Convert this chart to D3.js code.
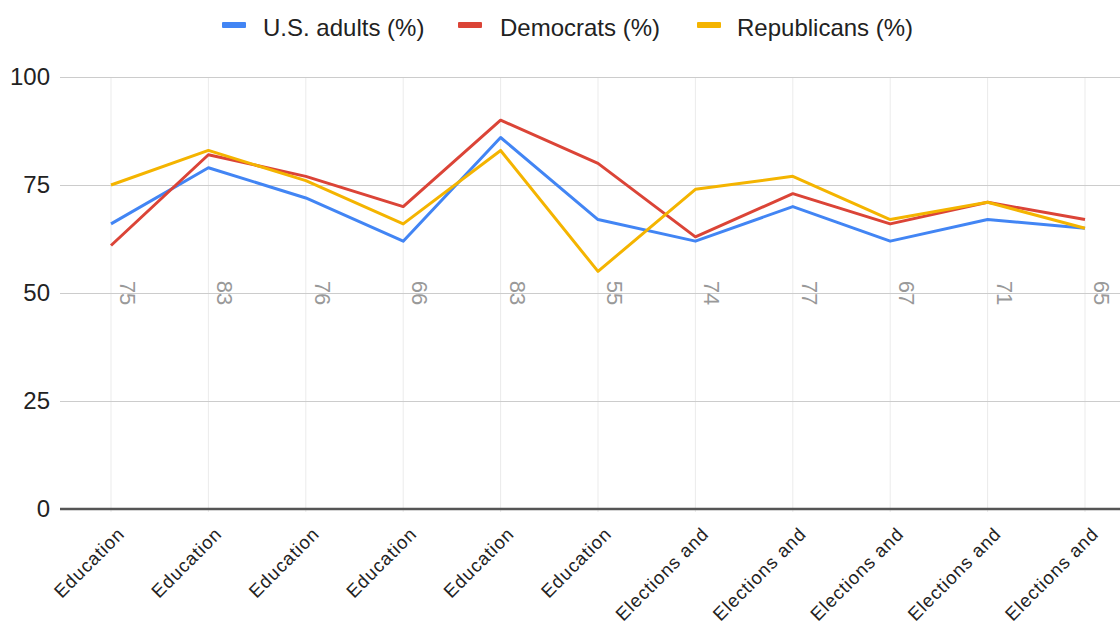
<!DOCTYPE html>
<html>
<head>
<meta charset="utf-8">
<script src="https://cdn.jsdelivr.net/npm/d3@7"></script>
<style>
  html, body { margin: 0; padding: 0; background: #fff; }
  svg { display: block; font-family: "Liberation Sans", Arial, sans-serif; }
</style>
</head>
<body>
<svg id="chart" width="1120" height="625"></svg>
<script>
// Topic categories along the x axis
const categories = [
  "Education", "Education", "Education", "Education", "Education", "Education",
  "Elections and", "Elections and", "Elections and", "Elections and", "Elections and"
];

// Share saying each item matters (%)
const usAdults    = [66, 79, 72, 62, 86, 67, 62, 70, 62, 67, 65];
const democrats   = [61, 82, 77, 70, 90, 80, 63, 73, 66, 71, 67];
const republicans = [75, 83, 76, 66, 83, 55, 74, 77, 67, 71, 65];

const seriesNames  = ["U.S. adults (%)", "Democrats (%)", "Republicans (%)"];
const seriesColors = ["#4285F4", "#DB4437", "#F4B400"];
const yTicks = [0, 25, 50, 75, 100];

const series = [usAdults, democrats, republicans].map((values, i) => ({
  name: seriesNames[i], color: seriesColors[i], values
}));

const svg = d3.select("#chart");
const idx = d3.range(categories.length);
const left = 60, right = 1120;

const x = d3.scalePoint().domain(idx).range([111, 1085]);
const y = d3.scaleLinear().domain([0, 100]).range([509, 77]);

// Vertical gridlines at each category
svg.append("g")
  .selectAll("line")
  .data(idx)
  .join("line")
  .attr("x1", d => x(d)).attr("x2", d => x(d))
  .attr("y1", y(100)).attr("y2", y(0) + 3)
  .attr("stroke", "#ebebeb").attr("stroke-width", 1);

// Horizontal gridlines and y labels
const yAxis = d3.axisLeft(y).tickValues(yTicks).tickSize(-(right - left)).tickPadding(10);
const gy = svg.append("g").attr("transform", `translate(${left},0)`).call(yAxis);
gy.select(".domain").remove();
gy.selectAll(".tick line").attr("stroke", d => d === 0 ? "none" : "#cccccc");
gy.selectAll(".tick text")
  .attr("fill", "#222").attr("font-size", 24)
  .attr("font-family", "'Liberation Sans', Arial, sans-serif");

// Baseline
svg.append("line")
  .attr("x1", left).attr("x2", right)
  .attr("y1", y(0)).attr("y2", y(0))
  .attr("stroke", "#555").attr("stroke-width", 2.5);

// Category labels on x axis
const xAxis = d3.axisBottom(x).tickSize(0).tickFormat(i => categories[i]);
const gx = svg.append("g").attr("transform", `translate(0,${y(0)})`).call(xAxis);
gx.select(".domain").remove();
gx.selectAll(".tick text")
  .attr("font-size", 18.5).attr("fill", "#222")
  .attr("letter-spacing", "0.9px")
  .attr("font-family", "'Liberation Sans', Arial, sans-serif")
  .attr("text-anchor", "end")
  .attr("dy", null)
  .attr("transform", "translate(12,24) rotate(-45)");

// Series lines
const line = d3.line().x((d, i) => x(i)).y(d => y(d));
svg.append("g")
  .selectAll("path")
  .data(series)
  .join("path")
  .attr("d", d => line(d.values))
  .attr("fill", "none")
  .attr("stroke", d => d.color)
  .attr("stroke-width", 3)
  .attr("stroke-linejoin", "round");

// Republican value labels, rotated vertically on the 50 line
svg.append("g")
  .selectAll("text")
  .data(republicans)
  .join("text")
  .attr("transform", (d, i) => `translate(${x(i) + 9},${y(50)}) rotate(90)`)
  .attr("text-anchor", "middle")
  .attr("font-size", 22)
  .attr("fill", "#999")
  .text(d => d);

// Legend
const legendItems = [
  { x: 222, tx: 263 },
  { x: 458, tx: 500 },
  { x: 697, tx: 737 }
];
const lg = svg.append("g");
legendItems.forEach((p, i) => {
  lg.append("rect")
    .attr("x", p.x).attr("y", 22).attr("width", 24).attr("height", 6)
    .attr("rx", 1).attr("fill", seriesColors[i]);
  lg.append("text")
    .attr("x", p.tx).attr("y", 36)
    .attr("font-size", 24).attr("fill", "#222")
    .text(seriesNames[i]);
});
</script>
</body>
</html>
